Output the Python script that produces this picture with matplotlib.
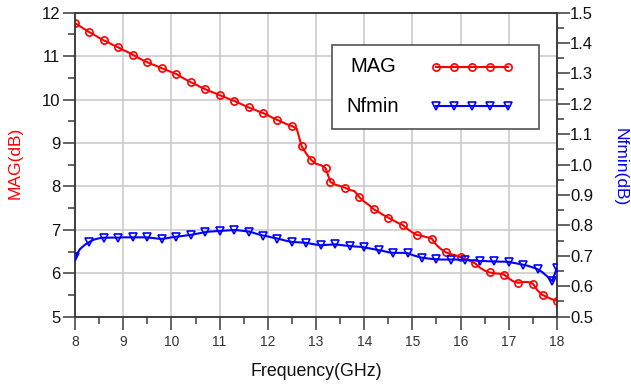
import numpy as np
import matplotlib
matplotlib.use("Agg")
import matplotlib.pyplot as plt
from matplotlib.patches import Rectangle
from matplotlib.lines import Line2D

plt.rcParams['font.family'] = ['Liberation Sans', 'DejaVu Sans']

# frequency grid (GHz), 0.1 GHz steps
freq = [8.0, 8.1, 8.2, 8.3, 8.4, 8.5, 8.6, 8.7, 8.8, 8.9,
        9.0, 9.1, 9.2, 9.3, 9.4, 9.5, 9.6, 9.7, 9.8, 9.9,
        10.0, 10.1, 10.2, 10.3, 10.4, 10.5, 10.6, 10.7, 10.8, 10.9,
        11.0, 11.1, 11.2, 11.3, 11.4, 11.5, 11.6, 11.7, 11.8, 11.9,
        12.0, 12.1, 12.2, 12.3, 12.4, 12.5, 12.6, 12.7, 12.8, 12.9,
        13.0, 13.1, 13.2, 13.3, 13.4, 13.5, 13.6, 13.7, 13.8, 13.9,
        14.0, 14.1, 14.2, 14.3, 14.4, 14.5, 14.6, 14.7, 14.8, 14.9,
        15.0, 15.1, 15.2, 15.3, 15.4, 15.5, 15.6, 15.7, 15.8, 15.9,
        16.0, 16.1, 16.2, 16.3, 16.4, 16.5, 16.6, 16.7, 16.8, 16.9,
        17.0, 17.1, 17.2, 17.3, 17.4, 17.5, 17.6, 17.7, 17.8, 17.9,
        18.0]

# MAG (dB), left axis
mag = [11.76, 11.69, 11.62, 11.55, 11.49, 11.42, 11.36, 11.31, 11.25, 11.20,
       11.14, 11.09, 11.03, 10.97, 10.91, 10.86, 10.81, 10.77, 10.72, 10.68,
       10.63, 10.59, 10.52, 10.46, 10.40, 10.35, 10.29, 10.24, 10.19, 10.15,
       10.10, 10.06, 10.01, 9.97, 9.92, 9.87, 9.82, 9.78, 9.73, 9.69,
       9.64, 9.58, 9.53, 9.48, 9.43, 9.39, 9.33, 8.93, 8.75, 8.61,
       8.52, 8.49, 8.42, 8.10, 8.04, 8.01, 7.97, 7.92, 7.89, 7.75,
       7.65, 7.57, 7.47, 7.41, 7.34, 7.28, 7.22, 7.16, 7.11, 7.02,
       6.94, 6.88, 6.86, 6.83, 6.80, 6.65, 6.55, 6.48, 6.44, 6.41,
       6.37, 6.33, 6.28, 6.23, 6.13, 6.06, 6.02, 6.00, 5.99, 5.97,
       5.88, 5.81, 5.78, 5.80, 5.80, 5.76, 5.60, 5.50, 5.45, 5.40,
       5.37]

# Nfmin (dB), right axis
nfmin = [0.695, 0.722, 0.736, 0.746, 0.754, 0.758, 0.760, 0.760, 0.760, 0.760,
         0.761, 0.761, 0.761, 0.761, 0.761, 0.761, 0.759, 0.757, 0.756, 0.758,
         0.761, 0.763, 0.765, 0.767, 0.769, 0.772, 0.775, 0.778, 0.780, 0.781,
         0.782, 0.783, 0.784, 0.785, 0.784, 0.782, 0.780, 0.776, 0.771, 0.767,
         0.764, 0.760, 0.757, 0.753, 0.749, 0.746, 0.745, 0.744, 0.743, 0.740,
         0.737, 0.735, 0.736, 0.737, 0.738, 0.736, 0.734, 0.733, 0.731, 0.730,
         0.728, 0.725, 0.722, 0.719, 0.716, 0.712, 0.710, 0.710, 0.710, 0.709,
         0.703, 0.698, 0.694, 0.692, 0.690, 0.689, 0.688, 0.688, 0.688, 0.688,
         0.687, 0.687, 0.686, 0.685, 0.683, 0.683, 0.682, 0.682, 0.681, 0.681,
         0.680, 0.677, 0.674, 0.671, 0.667, 0.662, 0.656, 0.646, 0.632, 0.617,
         0.661]

# frequencies where ADS put a symbol on each trace
mag_sym_freq = [8.0, 8.3, 8.6, 8.9, 9.2, 9.5, 9.8, 10.1, 10.4, 10.7, 11.0, 11.3,
                11.6, 11.9, 12.2, 12.5, 12.7, 12.9, 13.2, 13.3, 13.6, 13.9, 14.2,
                14.5, 14.8, 15.1, 15.4, 15.7, 16.0, 16.3, 16.6, 16.9, 17.2, 17.5,
                17.7, 18.0]
nf_sym_freq = [8.0, 8.3, 8.6, 8.9, 9.2, 9.5, 9.8, 10.1, 10.4, 10.7, 11.0, 11.3,
               11.6, 11.9, 12.2, 12.5, 12.8, 13.1, 13.4, 13.7, 14.0, 14.3, 14.6,
               14.9, 15.2, 15.5, 15.8, 16.1, 16.4, 16.7, 17.0, 17.3, 17.6, 17.9,
               18.0]

x_ticks = [8, 9, 10, 11, 12, 13, 14, 15, 16, 17, 18]
mag_ticks = [5, 6, 7, 8, 9, 10, 11, 12]
nf_ticks = [0.5, 0.6, 0.7, 0.8, 0.9, 1.0, 1.1, 1.2, 1.3, 1.4, 1.5]

RED = '#ff0000'
BLUE = '#0000ff'
SPINE = '#3a3a3a'
GRID = '#c8c8c8'

def sym_idx(fs):
    return [int(np.argmin(np.abs(np.array(freq) - f))) for f in fs]

fig = plt.figure(figsize=(6.31, 3.87), dpi=100)
ax = fig.add_axes([0.1189, 0.1817, 0.7638, 0.7855])
ax2 = ax.twinx()

ax.set_xlim(8, 18)
ax.set_ylim(5, 12)
ax2.set_ylim(0.5, 1.5)
ax.set_xticks(x_ticks)
ax.set_xticks(np.arange(8.5, 18, 1.0), minor=True)
ax.set_yticks(mag_ticks)
ax.set_yticks(np.arange(5.5, 12, 1.0), minor=True)
ax2.set_yticks(nf_ticks)
ax2.set_yticks(np.arange(0.55, 1.5, 0.1), minor=True)
ax.grid(True, which='major', color=GRID, lw=1.1)
ax.set_axisbelow(True)

ax.plot(freq, mag, color=RED, lw=1.5, marker='o', ms=5.2, mfc='none',
        mec=RED, mew=1.2, markevery=sym_idx(mag_sym_freq), zorder=3)
ax2.plot(freq, nfmin, color=BLUE, lw=1.5, marker='v', ms=5.5, mfc='none',
         mec=BLUE, mew=1.2, markevery=sym_idx(nf_sym_freq), zorder=3)

for a in (ax, ax2):
    for s in a.spines.values():
        s.set_color(SPINE)
        s.set_linewidth(1.1)

ax.tick_params(axis='x', which='major', direction='out', length=9, width=1.1,
               color=SPINE, labelsize=10, pad=4, labelcolor='#333333')
ax.tick_params(axis='x', which='minor', direction='out', length=5, width=1.1,
               color=SPINE)
ax.tick_params(axis='y', which='major', direction='out', length=9, width=1.1,
               color=SPINE, labelsize=12, pad=1.5, labelcolor='#111111')
ax.tick_params(axis='y', which='minor', direction='out', length=5, width=1.1,
               color=SPINE)
ax2.tick_params(axis='y', which='major', direction='out', length=9, width=1.1,
                color=SPINE, labelsize=12, pad=0.5, labelcolor='#111111')
ax2.tick_params(axis='y', which='minor', direction='out', length=5, width=1.1,
                color=SPINE)
ax.set_xticklabels([str(t) for t in x_ticks])
ax.set_yticklabels([str(t) for t in mag_ticks])
ax2.set_yticklabels(['%.1f' % t for t in nf_ticks])

# axis titles
fig.text(0.0238, 0.579, 'MAG(dB)', color=RED, fontsize=12.5, rotation=90,
         ha='center', va='center')
fig.text(0.9826, 0.5685, 'Nfmin(dB)', color=BLUE, fontsize=12.5, rotation=270,
         ha='center', va='center')
fig.text(0.5008, 0.0395, 'Frequency(GHz)', color='#111111', fontsize=12.8,
         ha='center', va='center')

# legend box, drawn by hand like the ADS one
def fx(px):
    return px / 631.0

def fy(py):
    return 1 - py / 387.0

fig.patches.append(Rectangle((fx(332), fy(129)), fx(539) - fx(332), fy(45) - fy(129),
                             transform=fig.transFigure, facecolor='white',
                             edgecolor='#444444', lw=1.1, zorder=5))
fig.text(fx(373), fy(67), 'MAG', fontsize=14.5, ha='center', va='center', zorder=6)
fig.text(fx(373), fy(106), 'Nfmin', fontsize=14.5, ha='center', va='center', zorder=6)
sample_x = np.linspace(fx(436), fx(508), 5)
fig.lines.append(Line2D(sample_x, [fy(67)] * 5, transform=fig.transFigure, color=RED,
                        lw=1.5, marker='o', ms=5.2, mfc='none', mew=1.2, zorder=6))
fig.lines.append(Line2D(sample_x, [fy(106)] * 5, transform=fig.transFigure, color=BLUE,
                        lw=1.5, marker='v', ms=5.5, mfc='none', mew=1.2, zorder=6))

fig.savefig('out.png', dpi=100)
